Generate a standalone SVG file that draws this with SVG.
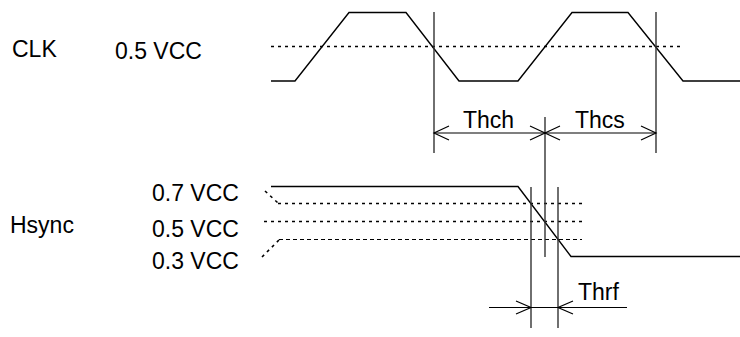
<svg xmlns="http://www.w3.org/2000/svg" width="740" height="337" viewBox="0 0 740 337">
<style>
text{font-family:"Liberation Sans",Arial,sans-serif;font-size:23px;fill:#000}
.w{fill:none;stroke:#000;stroke-width:1.4}
.v{fill:none;stroke:#333;stroke-width:1.4}
.d{fill:none;stroke:#000;stroke-width:1.6;stroke-dasharray:3 4}
.df{fill:none;stroke:#000;stroke-width:1.1;stroke-dasharray:4 3}
.a{fill:none;stroke:#000;stroke-width:1.2}
</style>
<rect width="740" height="337" fill="#fff"/>
<g id="labels">
<text x="12" y="57">CLK</text>
<text x="115" y="59">0.5 VCC</text>
<text x="10" y="233">Hsync</text>
<text x="152" y="201">0.7 VCC</text>
<text x="152" y="237">0.5 VCC</text>
<text x="152" y="269">0.3 VCC</text>
</g>
<g id="clk">
<polyline class="w" points="271,81 295,81 349,12.5 406,12.5 459,81 518,81 572,12.5 628,12.5 683,81 740,81"/>
<line class="d" x1="271" y1="46.5" x2="681" y2="46.5"/>
</g>
<g id="hsync">
<polyline class="w" points="271,186.5 518,186.5 571,256.5 740,256.5"/>
<line class="d" x1="278" y1="203.5" x2="585" y2="203.5"/>
<line class="d" x1="264" y1="221.5" x2="582" y2="221.5"/>
<line class="df" x1="279" y1="239.5" x2="582" y2="239.5"/>
<line class="d" x1="265" y1="191" x2="278" y2="203"/>
<line class="d" x1="262" y1="257" x2="279" y2="240"/>
</g>
<g id="connectors">
<line class="v" x1="434" y1="12" x2="434" y2="153"/>
<line class="v" x1="656" y1="12" x2="656" y2="153"/>
<line class="v" x1="545" y1="117" x2="545" y2="257"/>
<line class="v" x1="531" y1="187" x2="531" y2="328"/>
<line class="v" x1="558" y1="187" x2="558" y2="328"/>
<line class="a" x1="434" y1="133" x2="656" y2="133"/>
<polyline class="a" points="449,126 434,133 449,140"/>
<polyline class="a" points="530,126 545,133 530,140"/>
<polyline class="a" points="560,126 545,133 560,140"/>
<polyline class="a" points="641,126 656,133 641,140"/>
<line class="a" x1="489" y1="307.5" x2="627" y2="307.5"/>
<polyline class="a" points="516,301 531,307.5 516,314"/>
<polyline class="a" points="573,301 558,307.5 573,314"/>
</g>
<g id="dim-labels">
<text x="463" y="128">Thch</text>
<text x="575" y="128">Thcs</text>
<text x="578" y="300">Thrf</text>
</g>
</svg>
